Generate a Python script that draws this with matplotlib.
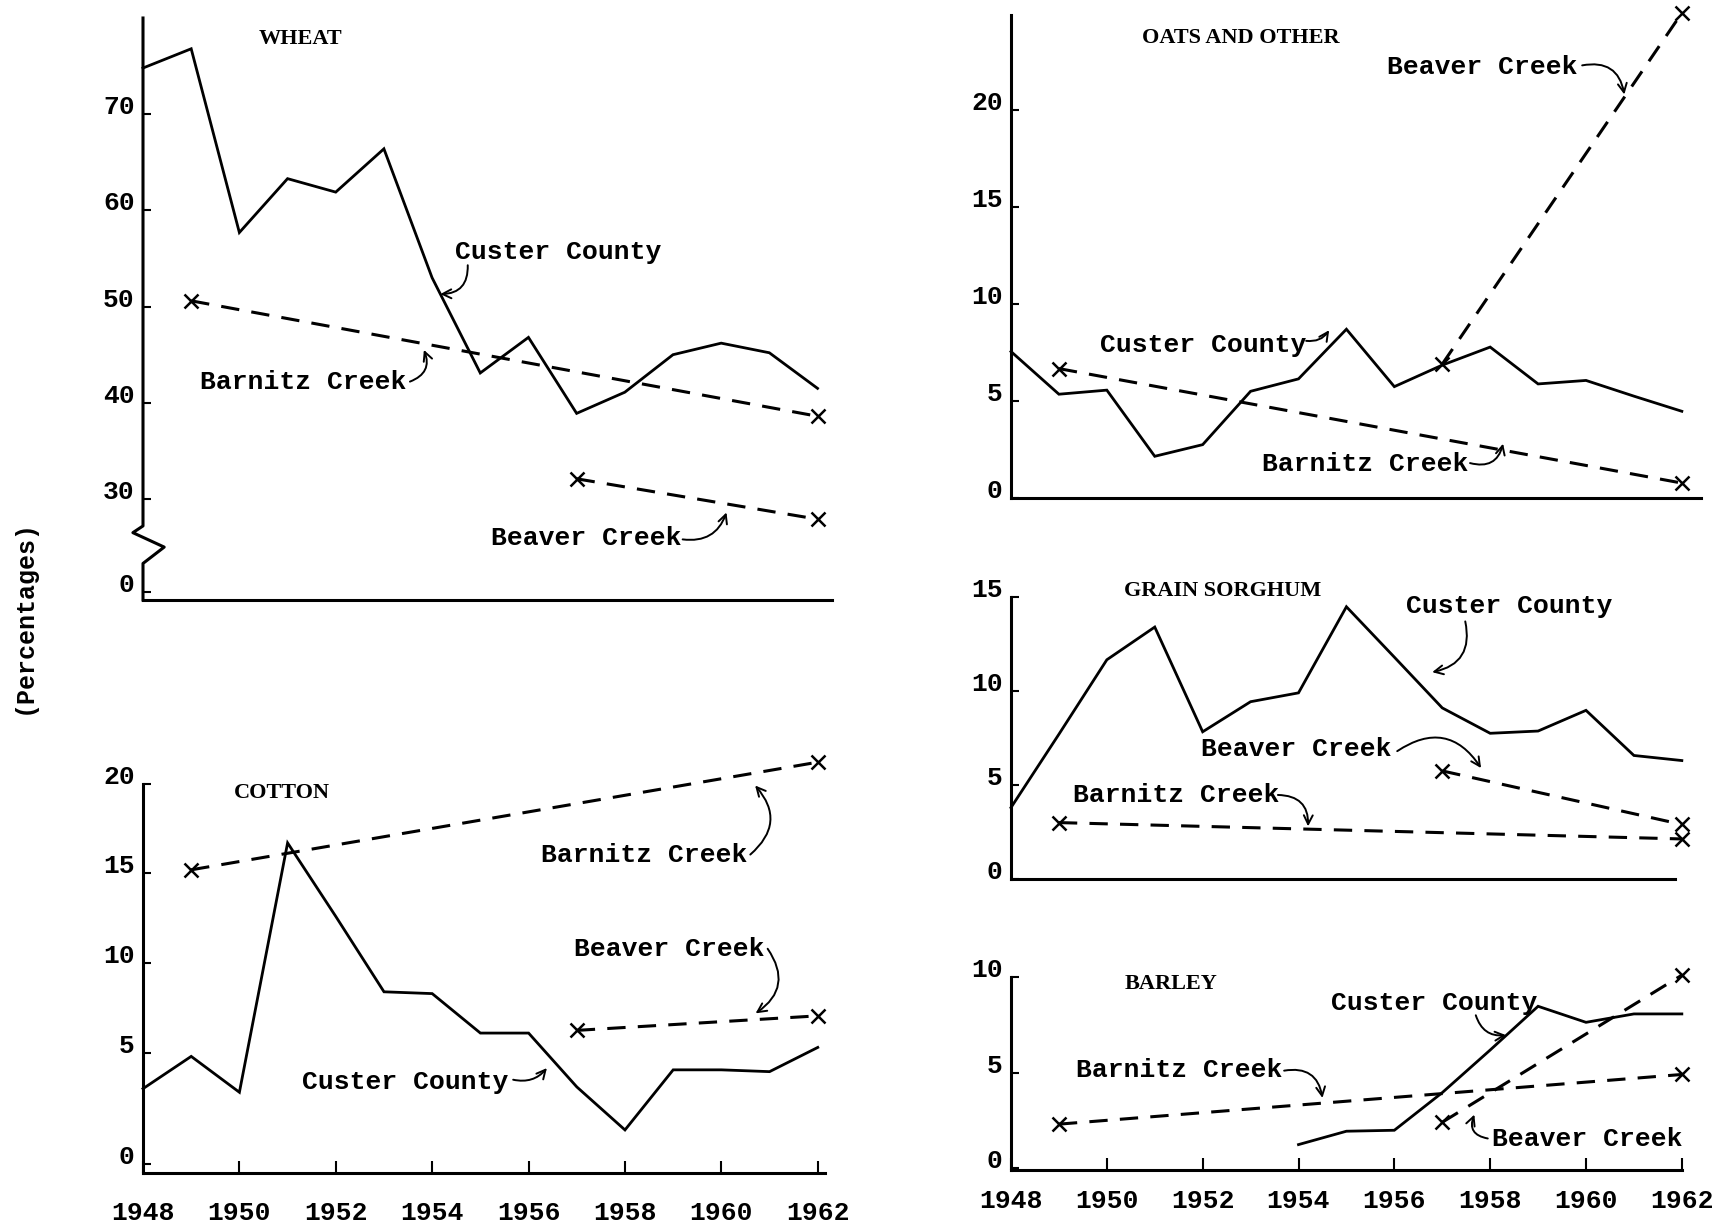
import matplotlib
matplotlib.use('Agg')
import matplotlib.pyplot as plt

plt.rcParams['font.family'] = ['Liberation Mono', 'DejaVu Sans Mono']

W, H = 1727, 1225

years = list(range(1948, 1963))

# WHEAT
wheat_custer = [74.8, 76.8, 57.7, 63.3, 61.9, 66.4, 53.0, 43.1, 46.8, 38.9, 41.1, 45.0, 46.2, 45.2, 41.5]
wheat_barnitz_yr = [1949, 1962]
wheat_barnitz = [50.6, 38.6]
wheat_beaver_yr = [1957, 1962]
wheat_beaver = [32.1, 27.9]

# COTTON
cotton_custer = [3.0, 4.8, 2.8, 16.7, 12.6, 8.4, 8.3, 6.1, 6.1, 3.1, 0.7, 4.05, 4.05, 3.95, 5.3]
cotton_barnitz_yr = [1949, 1962]
cotton_barnitz = [15.2, 21.2]
cotton_beaver_yr = [1957, 1962]
cotton_beaver = [6.25, 7.06]

# OATS AND OTHER
oats_custer = [7.55, 5.35, 5.56, 2.15, 2.75, 5.5, 6.14, 8.7, 5.74, 6.85, 7.78, 5.88, 6.06, 5.25, 4.47]
oats_barnitz_yr = [1949, 1962]
oats_barnitz = [6.67, 0.77]
oats_beaver_yr = [1957, 1962]
oats_beaver = [6.9, 25.0]

# GRAIN SORGHUM
sorg_custer = [3.8, 7.7, 11.66, 13.4, 7.83, 9.43, 9.9, 14.48, 11.8, 9.1, 7.75, 7.87, 8.97, 6.57, 6.3]
sorg_beaver_yr = [1957, 1962]
sorg_beaver = [5.75, 2.9]
sorg_barnitz_yr = [1949, 1962]
sorg_barnitz = [3.0, 2.13]

# BARLEY
barley_custer_yr = list(range(1954, 1963))
barley_custer = [1.23, 1.93, 1.98, 3.95, 6.18, 8.47, 7.63, 8.07, 8.07]
barley_beaver_yr = [1957, 1962]
barley_beaver = [2.4, 10.1]
barley_barnitz_yr = [1949, 1962]
barley_barnitz = [2.3, 4.9]

year_ticks = [1948, 1950, 1952, 1954, 1956, 1958, 1960, 1962]

LBL = dict(family='Liberation Mono', size=19, weight='bold', va='center', ha='left')
TTL = dict(family='Liberation Serif', size=16, weight='bold', va='center', ha='center')
NUM = dict(family='Liberation Mono', size=19, weight='bold')

fig = plt.figure(figsize=(W / 100, H / 100), dpi=100)


def panel(x0, x1, ytop, ybot, xlim, ylim):
    ax = fig.add_axes([x0 / W, 1 - ybot / H, (x1 - x0) / W, (ybot - ytop) / H])
    ax.set_xlim(*xlim)
    ax.set_ylim(*ylim)
    ax.patch.set_alpha(0)
    for s in ['top', 'right']:
        ax.spines[s].set_visible(False)
    for s in ['left', 'bottom']:
        ax.spines[s].set_linewidth(2.2)
    ax.tick_params(axis='y', direction='in', length=6, width=1.5, pad=6)
    ax.tick_params(axis='x', direction='in', length=9, width=1.5)
    return ax


def set_yt(ax, pos, labels):
    ax.set_yticks(pos)
    ax.set_yticklabels(labels, **NUM)
    for t in ax.get_yticklabels():
        t.set_va('baseline')


def set_xt(ax, pad):
    ax.set_xticks(year_ticks)
    ax.set_xticklabels([str(y) for y in year_ticks], **NUM)
    ax.tick_params(axis='x', pad=pad)


def custer(ax, x, y):
    ax.plot(x, y, color='black', lw=2, solid_joinstyle='miter', clip_on=False)


def creek(ax, x, y):
    ax.plot(x, y, color='black', lw=2.2, dashes=(6, 4), marker='x', ms=10, mew=1.8, clip_on=False)


def arrow(ax, start, end, rad):
    ax.annotate('', xy=end, xytext=start,
                arrowprops=dict(arrowstyle='->', lw=1.4, color='black', shrinkA=0, shrinkB=0,
                                mutation_scale=16, connectionstyle='arc3,rad=%s' % rad),
                annotation_clip=False)


# ---- WHEAT ----
ax = panel(143, 832, 18, 600, (1948, 1962.3), (19.5, 80))
ax.spines['left'].set_visible(False)
# axis with a break between 0 and 30
ax.plot([1948, 1948, 1948.44, 1947.79, 1948, 1948], [19.5, 23.3, 25.0, 26.5, 27.2, 80],
        color='black', lw=2.2, clip_on=False)
set_yt(ax, [20.3, 30, 40, 50, 60, 70], ['0', '30', '40', '50', '60', '70'])
ax.set_xticks([])
custer(ax, years, wheat_custer)
creek(ax, wheat_barnitz_yr, wheat_barnitz)
creek(ax, wheat_beaver_yr, wheat_beaver)
ax.text(1951.26, 77.8, 'WHEAT', **TTL)
ax.text(1954.47, 55.7, 'Custer County', **LBL)
arrow(ax, (1954.74, 54.3), (1954.17, 51.3), -0.5)
ax.text(1949.18, 42.2, 'Barnitz Creek', **LBL)
arrow(ax, (1953.54, 42.2), (1953.83, 45.5), 0.5)
ax.text(1955.22, 25.9, 'Beaver Creek', **LBL)
arrow(ax, (1959.2, 25.8), (1960.11, 28.6), 0.4)

# ---- COTTON ----
ax = panel(143, 825, 755, 1173, (1948, 1962.15), (-1.7, 21.6))
ax.spines['left'].set_bounds(-1.7, 20)
set_yt(ax, [-1.2, 5, 10, 15, 20], ['0', '5', '10', '15', '20'])
set_xt(ax, 20)
custer(ax, years, cotton_custer)
creek(ax, cotton_barnitz_yr, cotton_barnitz)
creek(ax, cotton_beaver_yr, cotton_beaver)
ax.text(1950.88, 19.5, 'COTTON', **TTL)
ax.text(1956.26, 16.05, 'Barnitz Creek', **LBL)
arrow(ax, (1960.6, 16.05), (1960.7, 19.9), 0.5)
ax.text(1956.94, 10.8, 'Beaver Creek', **LBL)
arrow(ax, (1960.96, 10.8), (1960.71, 7.2), -0.5)
ax.text(1951.3, 3.4, 'Custer County', **LBL)
arrow(ax, (1955.68, 3.5), (1956.38, 4.15), 0.3)

# ---- OATS AND OTHER ----
ax = panel(1011, 1701, 3.3, 498, (1948, 1962.4), (0, 25.5))
ax.spines['left'].set_bounds(0, 24.9)
set_yt(ax, [0, 5, 10, 15, 20], ['0', '5', '10', '15', '20'])
ax.set_xticks([])
custer(ax, years, oats_custer)
creek(ax, oats_barnitz_yr, oats_barnitz)
creek(ax, oats_beaver_yr, oats_beaver)
ax.text(1952.8, 23.7, 'OATS AND OTHER', **TTL)
ax.text(1955.85, 22.2, 'Beaver Creek', **LBL)
arrow(ax, (1959.92, 22.3), (1960.8, 20.8), -0.5)
ax.text(1949.86, 7.9, 'Custer County', **LBL)
arrow(ax, (1954.16, 8.1), (1954.64, 8.65), 0.3)
ax.text(1953.24, 1.75, 'Barnitz Creek', **LBL)
arrow(ax, (1957.58, 1.8), (1958.27, 2.8), 0.5)

# ---- GRAIN SORGHUM ----
ax = panel(1011, 1701, 585.7, 879, (1948, 1962.4), (0, 15.6))
ax.spines['left'].set_bounds(0, 15)
ax.spines['bottom'].set_bounds(1948, 1961.85)
set_yt(ax, [0, 5, 10, 15], ['0', '5', '10', '15'])
ax.set_xticks([])
custer(ax, years, sorg_custer)
creek(ax, sorg_beaver_yr, sorg_beaver)
creek(ax, sorg_barnitz_yr, sorg_barnitz)
ax.text(1952.41, 15.3, 'GRAIN SORGHUM', **TTL)
ax.text(1956.25, 14.5, 'Custer County', **LBL)
arrow(ax, (1957.48, 13.7), (1956.79, 11.0), -0.5)
ax.text(1951.96, 6.9, 'Beaver Creek', **LBL)
arrow(ax, (1956.06, 6.8), (1957.81, 5.9), -0.5)
ax.text(1949.29, 4.47, 'Barnitz Creek', **LBL)
arrow(ax, (1953.57, 4.47), (1954.2, 2.8), -0.5)

# ---- BARLEY ----
ax = panel(1011, 1701, 967.5, 1170, (1948, 1962.4), (-0.1, 10.5))
ax.spines['left'].set_bounds(-0.1, 10)
ax.spines['bottom'].set_bounds(1948, 1962)
set_yt(ax, [0, 5, 10], ['0', '5', '10'])
set_xt(ax, 14)
custer(ax, barley_custer_yr, barley_custer)
creek(ax, barley_beaver_yr, barley_beaver)
creek(ax, barley_barnitz_yr, barley_barnitz)
ax.text(1951.34, 9.66, 'BARLEY', **TTL)
ax.text(1954.67, 8.64, 'Custer County', **LBL)
arrow(ax, (1957.7, 8.0), (1958.33, 6.96), 0.4)
ax.text(1949.36, 5.16, 'Barnitz Creek', **LBL)
arrow(ax, (1953.7, 5.1), (1954.5, 3.67), -0.5)
ax.text(1958.04, 1.5, 'Beaver Creek', **LBL)
arrow(ax, (1957.95, 1.55), (1957.67, 2.8), -0.6)

fig.text(24 / W, 1 - 617 / H, '(Percentages)', rotation=90, va='center', ha='center',
         family='Liberation Mono', weight='bold', size=18)

plt.savefig('out.png', dpi=100)
